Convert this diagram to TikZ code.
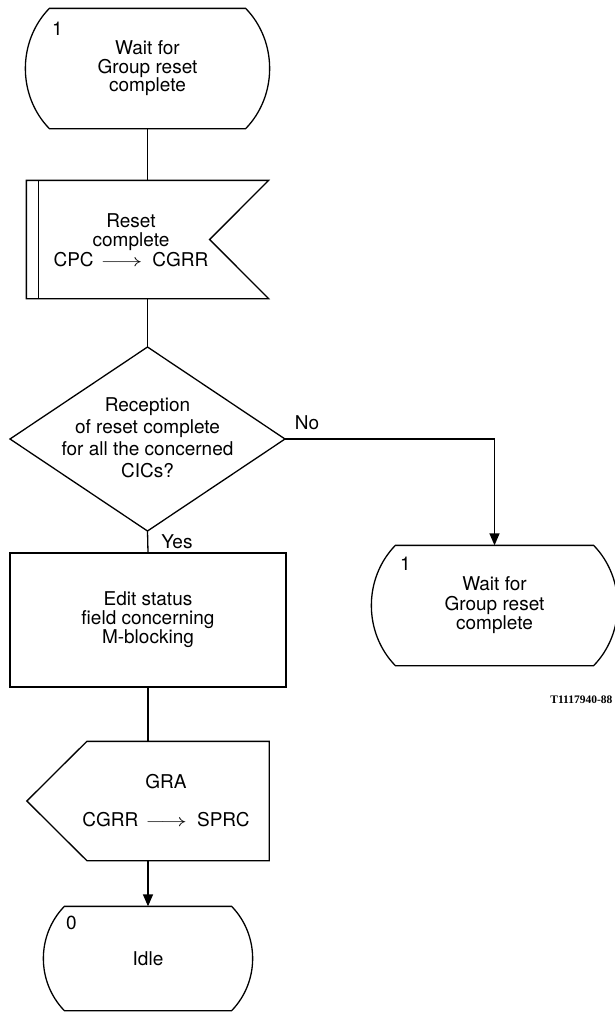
\documentclass[tikz,border=0pt]{standalone}
\usepackage{fontspec}
\setmainfont{TeX Gyre Heros}
\newfontfamily\labelfont{Liberation Serif}
\usetikzlibrary{arrows.meta,calc}
\newcommand{\stateoutline}[3]{%
  \draw (#1.north west) -- (#1.north east)
    .. controls +(#2,#3) and +(#2,-#3) .. (#1.south east)
    -- (#1.south west)
    .. controls +(-#2,-#3) and +(-#2,#3) .. (#1.north west) -- cycle;}
\newcommand{\sigarrow}{\scalebox{1.5}[1]{$\longrightarrow$}}
\begin{document}
\begin{tikzpicture}[x=1pt,y=-1pt,line width=1.3pt,
  txt/.style={font=\fontsize{19}{#1}\selectfont, align=center, inner sep=0pt},
  txt/.default=19,
  box/.style n args={2}{inner sep=0pt, minimum width=#1, minimum height=#2},
  arr/.style={-{Triangle[length=12pt,width=10pt]}},
  lab/.style={font=\fontsize{19}{19}\selectfont, inner sep=0pt}]
\useasboundingbox (0,0) rectangle (614,1012);

% top state
\node[box={195}{119}, txt=18.5] (s1) at (147.5,68.5) {Wait for\\Group reset\\complete};
\stateoutline{s1}{32}{33}
\node[lab] (s1n) at ($(s1.north west)+(8,20)$) {1};

% signal input
\node[box={241}{117}] (sig) at (147.5,239.5) {};
\draw (sig.north west) -- (sig.north east) -- ($(sig.east)+(-59,0)$) -- (sig.south east) -- (sig.south west) -- cycle;
\draw ($(sig.north west)+(12,0)$) -- ($(sig.south west)+(12,0)$);
\node[txt=19.5] (sigt) at (131,240) {Reset\\complete\\CPC\hspace{7pt}\sigarrow\hspace{10pt}CGRR};

% decision
\coordinate (dect) at (147.5,347);
\coordinate (decb) at (147.5,531);
\coordinate (decl) at (10,439);
\coordinate (decr) at (285,439);
\draw (dect) -- (decr) -- (decb) -- (decl) -- cycle;
\node[txt=22] (dec) at (147.5,438) {Reception\\of reset complete\\for all the concerned\\CICs?};
\node[lab] (no) at (307,423) {No};
\node[lab] (yes) at (177,542) {Yes};

% edit task
\node[box={276}{134}, draw, txt=19] (edit) at (148,620) {Edit status\\field concerning\\M-blocking};

% output
\node[box={241}{118}] (out) at (148,801) {};
\draw (out.west) -- ($(out.north west)+(60,0)$) -- (out.north east) -- (out.south east) -- ($(out.south west)+(60,0)$) -- cycle;
\node[txt=19] (outt) at (166,801) {GRA\\[19pt]CGRR\hspace{7pt}\sigarrow\hspace{10pt}SPRC};

% idle state
\node[box={166}{103}, txt=19] (idle) at (148,958.5) {Idle};
\stateoutline{idle}{28}{29}
\node[lab] (idlen) at ($(idle.north west)+(7,17)$) {0};

% right state
\node[box={197}{119}, txt=19.5] (s2) at (494.5,605.5) {Wait for\\Group reset\\complete};
\stateoutline{s2}{32}{33}
\node[lab] (s2n) at ($(s2.north west)+(10,18)$) {1};

\node[anchor=east, font=\labelfont\bfseries\fontsize{11.5}{12}\selectfont, inner sep=0pt] (ref) at (613,700) {T1117940-88};

% connectors
\draw (s1.south) -- (sig.north);
\draw (sig.south) -- (dect);
\draw (decb) -- (edit.north);
\draw[arr] (decr) -| (s2.north);
\draw (edit.south) -- (out.north);
\draw[arr] (out.south) -- (idle.north);
\end{tikzpicture}
\end{document}
